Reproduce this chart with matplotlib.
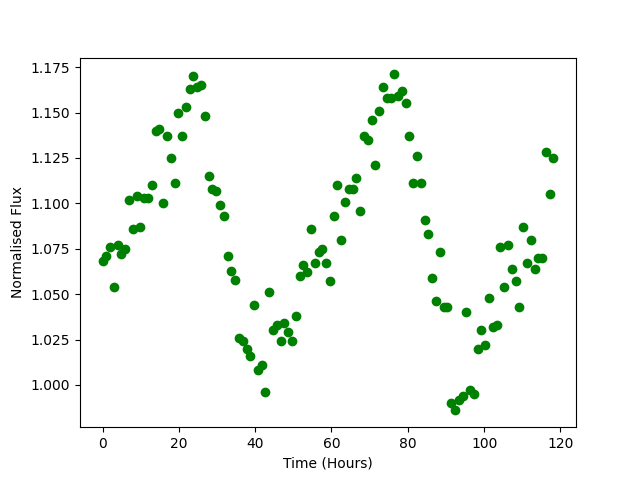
import numpy as np
import matplotlib
matplotlib.use("Agg")
import matplotlib.pyplot as plt

# normalised flux, one sample per cadence (~0.993 h)
flux = [
    1.068, 1.071, 1.076, 1.054, 1.077, 1.072, 1.075, 1.102, 1.086, 1.104,
    1.087, 1.103, 1.103, 1.110, 1.140, 1.141, 1.100, 1.137, 1.125, 1.111,
    1.150, 1.137, 1.153, 1.163, 1.170, 1.164, 1.165, 1.148, 1.115, 1.108,
    1.107, 1.099, 1.093, 1.071, 1.063, 1.058, 1.026, 1.024, 1.020, 1.016,
    1.044, 1.008, 1.011, 0.996, 1.051, 1.030, 1.033, 1.024, 1.034, 1.029,
    1.024, 1.038, 1.060, 1.066, 1.062, 1.086, 1.067, 1.073, 1.075, 1.067,
    1.057, 1.093, 1.110, 1.080, 1.101, 1.108, 1.108, 1.114, 1.096, 1.137,
    1.135, 1.146, 1.121, 1.151, 1.164, 1.158, 1.158, 1.171, 1.159, 1.162,
    1.155, 1.137, 1.111, 1.126, 1.111, 1.091, 1.083, 1.059, 1.046, 1.073,
    1.043, 1.043, 0.990, 0.986, 0.992, 0.994, 1.040, 0.997, 0.995, 1.020,
    1.030, 1.022, 1.048, 1.032, 1.033, 1.076, 1.054, 1.077, 1.064, 1.057,
    1.043, 1.087, 1.067, 1.080, 1.064, 1.070, 1.070, 1.128, 1.105, 1.125,
]
cadence = 0.993
time = np.arange(len(flux)) * cadence

plt.figure(figsize=(6.4, 4.8), dpi=100)
plt.plot(time, flux, 'go')
plt.xlabel("Time (Hours)")
plt.ylabel("Normalised Flux")
plt.savefig("out.png")
